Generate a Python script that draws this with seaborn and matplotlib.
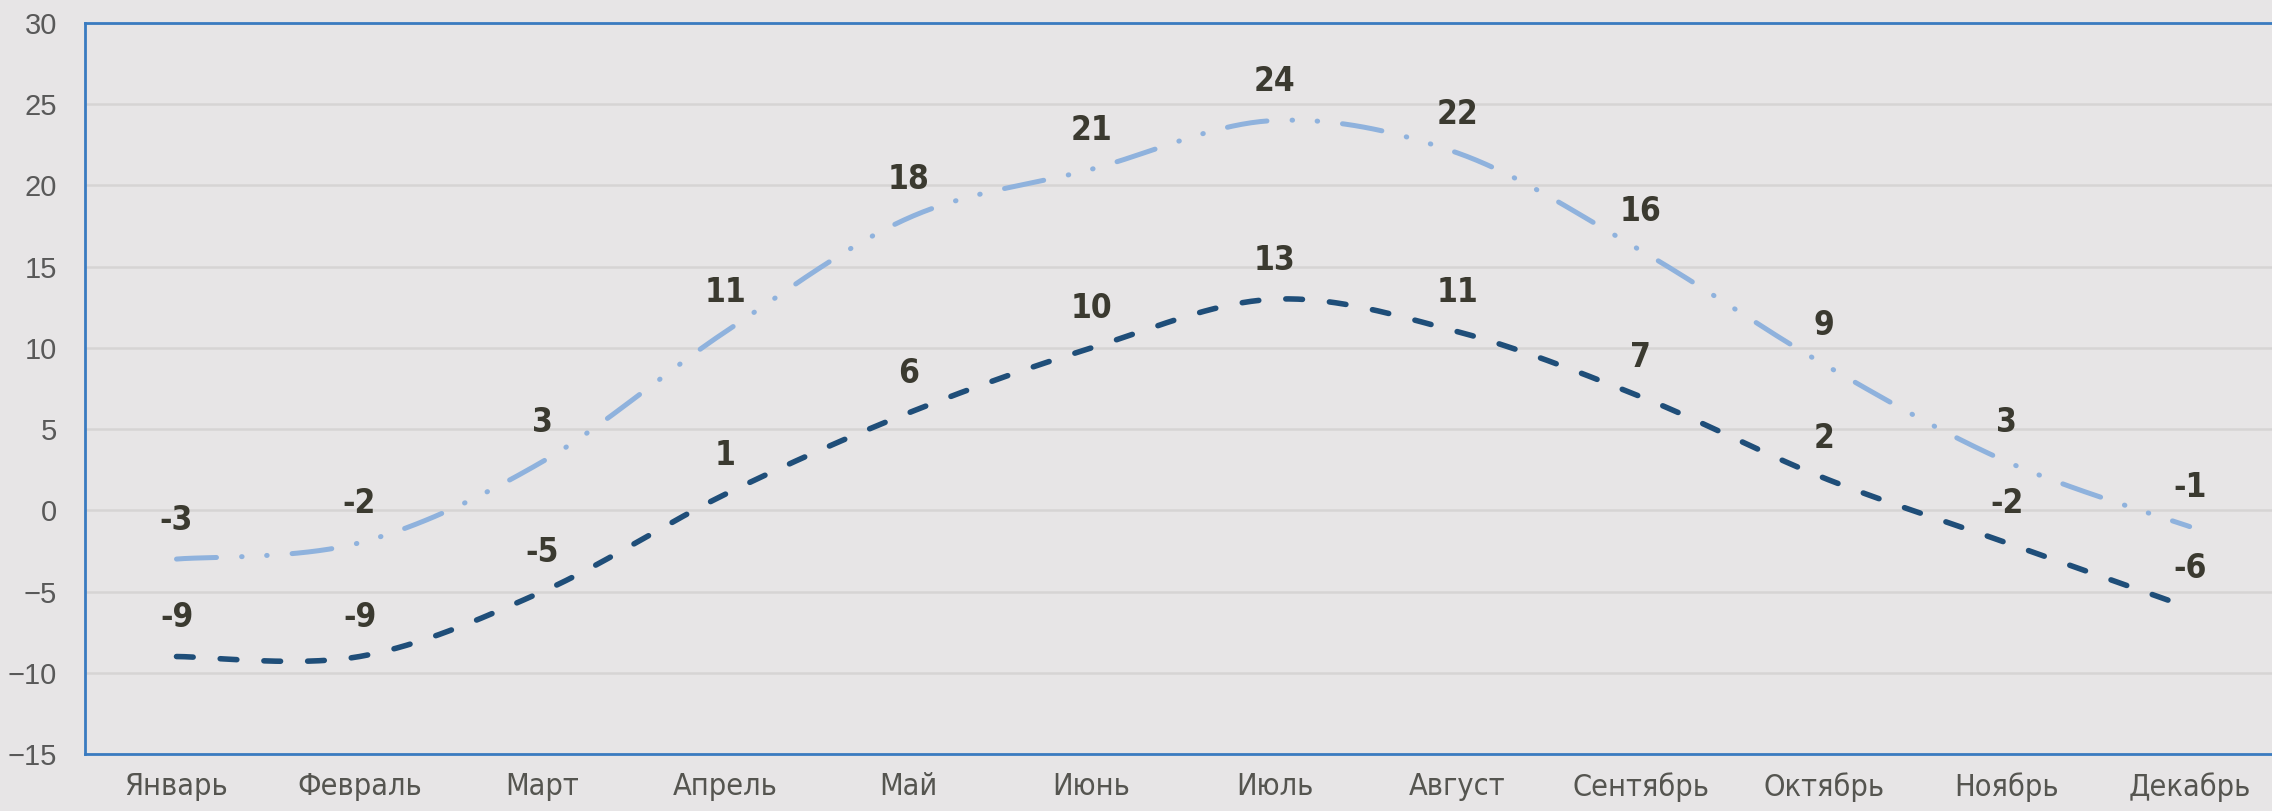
import numpy as np
import pandas as pd
import seaborn as sns
import matplotlib.pyplot as plt
from matplotlib import font_manager

months = ["Январь", "Февраль", "Март", "Апрель", "Май", "Июнь",
          "Июль", "Август", "Сентябрь", "Октябрь", "Ноябрь", "Декабрь"]
t_high = [-3, -2, 3, 11, 18, 21, 24, 22, 16, 9, 3, -1]
t_low = [-9, -9, -5, 1, 6, 10, 13, 11, 7, 2, -2, -6]

bg = "#e7e5e6"
c_light = "#8fb2dd"
c_dark = "#1f4e79"
c_spine = "#3a7bc0"

sns.set_theme(style="white", rc={"axes.facecolor": bg, "figure.facecolor": bg})

names = {f.name for f in font_manager.fontManager.ttflist}
narrow = "Liberation Sans Narrow" if "Liberation Sans Narrow" in names else "DejaVu Sans"
plt.rcParams["font.family"] = ["Liberation Sans", "DejaVu Sans"]


def smooth(y, n=40):
    # Excel-style smoothed line (Bezier with Catmull-Rom control points)
    x = np.arange(len(y), dtype=float)
    p = np.column_stack([x, np.asarray(y, dtype=float)])
    out = []
    for i in range(len(p) - 1):
        p0 = p[i - 1] if i > 0 else p[i]
        p3 = p[i + 2] if i + 2 < len(p) else p[i + 1]
        c1 = p[i] + (p[i + 1] - p0) / 6
        c2 = p[i + 1] - (p3 - p[i]) / 6
        t = np.linspace(0, 1, n)[:, None]
        seg = ((1 - t) ** 3 * p[i] + 3 * (1 - t) ** 2 * t * c1
               + 3 * (1 - t) * t ** 2 * c2 + t ** 3 * p[i + 1])
        out.append(seg if i == 0 else seg[1:])
    s = np.vstack(out)
    return pd.DataFrame({"x": s[:, 0], "y": s[:, 1]})


fig = plt.figure(figsize=(22.72, 8.11), dpi=100)
ax = fig.add_axes([85 / 2272, 1 - 754 / 811, 1 - 85 / 2272, (754 - 23) / 811])

hi = smooth(t_high)
lo = smooth(t_low)
sns.lineplot(data=hi, x="x", y="y", ax=ax, color=c_light, linewidth=3.6,
             linestyle=(0, (28.8 / 3.6, 18.1 / 3.6, 0.1, 17.7 / 3.6, 0.1, 18.0 / 3.6)),
             dash_capstyle="round", sort=False)
sns.lineplot(data=lo, x="x", y="y", ax=ax, color=c_dark, linewidth=4.0,
             linestyle=(0, (12 / 4.0, 19.5 / 4.0)),
             dash_capstyle="round", sort=False)

for series in (t_high, t_low):
    for i, v in enumerate(series):
        ax.annotate(str(v), (i, v), xytext=(0, 28), textcoords="offset points",
                    ha="center", va="center", fontsize=24, fontweight="bold",
                    family=narrow, fontstretch="condensed", color="#3b3a30")

ax.set_xlim(-0.5, 11.45)
ax.set_ylim(-15, 30)
ax.set_yticks(range(-15, 31, 5))
ax.set_xticks(range(12))
ax.set_xticklabels(months, family=narrow, fontstretch="condensed",
                   fontsize=22, color="#555550")
ax.set_xlabel("")
ax.set_ylabel("")
ax.tick_params(axis="y", length=0, pad=20, labelsize=21, labelcolor="#595959")
ax.tick_params(axis="x", length=0, pad=13)
ax.yaxis.grid(True, color="#d6d4d4", linewidth=1.8)
ax.set_axisbelow(True)

for side in ("left", "top", "bottom"):
    ax.spines[side].set_color(c_spine)
    ax.spines[side].set_linewidth(2)
ax.spines["right"].set_visible(False)

fig.savefig("out.png", dpi=100, facecolor=bg)
